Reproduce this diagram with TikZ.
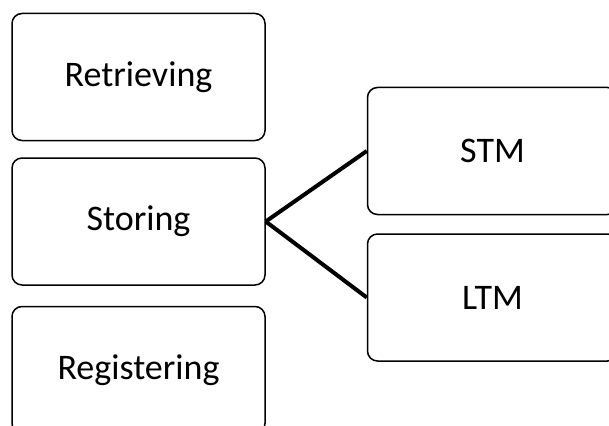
\documentclass[tikz,border=0pt]{standalone}
\usepackage{fontspec}
\setmainfont{Carlito}
\usetikzlibrary{positioning}
\tikzset{
  memstage/.style={draw, rounded corners=10pt, align=center, line width=1.5pt,
                   minimum width=253pt, minimum height=127pt, inner sep=0pt,
                   font=\fontsize{36}{43}\selectfont},
  storebox/.style={memstage, minimum width=250pt, minimum height=127pt},
  link/.style={line width=4pt},
}
\begin{document}
\begin{tikzpicture}[node distance=17pt and 101pt]
  \clip (0,0) rectangle (609pt,-425pt);
  \node[memstage] (stor) at (138.5pt,-221.5pt) {Storing};
  \node[memstage, above=16pt of stor] (retr) {Retrieving};
  \node[memstage, below=20pt of stor] (reg) {Registering};
  \node[storebox, right=101pt of stor, yshift=70.5pt] (stm) {STM};
  \node[storebox, below=18pt of stm] (ltm) {LTM};
  \draw[link] (stor.east) -- (stm.west);
  \draw[link] (stor.east) -- (ltm.west);
\end{tikzpicture}
\end{document}
